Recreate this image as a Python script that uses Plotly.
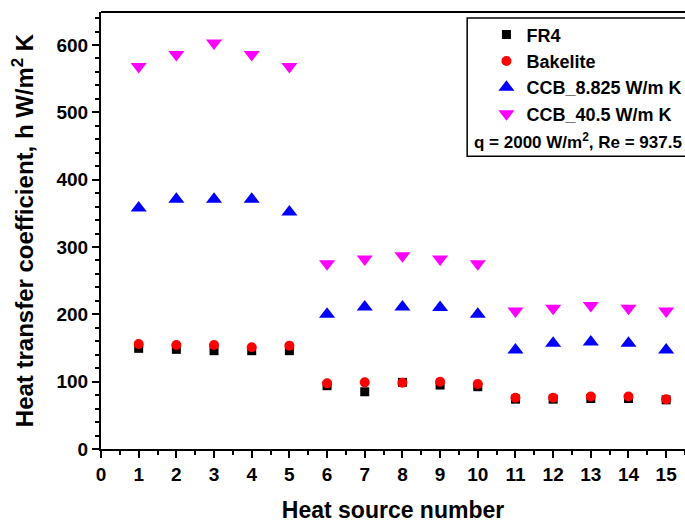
import plotly.graph_objects as go

heat_source = list(range(1, 16))
fr4 = [149.5, 148, 146, 146, 146, 94, 85, 99, 95, 92.5, 74, 74, 75, 75, 73]
bakelite = [156, 154.5, 154.5, 151, 153.5, 97.5, 99, 98.5, 100, 96.5, 76, 76, 78, 78, 74]
ccb_8825 = [358, 371, 371, 371, 352, 200, 211, 211, 210, 200, 147, 157, 159, 157, 147]
ccb_405 = [568, 586, 603, 586, 568, 275, 282, 287, 282, 275, 205, 209, 213, 209, 205]

FONT = "Liberation Sans, Arial, sans-serif"

fig = go.Figure()
series = [
    ("FR4", fr4, "square", "black", 9),
    ("Bakelite", bakelite, "circle", "red", 10),
    ("CCB_8.825 W/m K", ccb_8825, "triangle-up", "blue", 14),
    ("CCB_40.5 W/m K", ccb_405, "triangle-down", "magenta", 14),
]
for i, (name, vals, sym, col, sz) in enumerate(series):
    fig.add_trace(go.Scatter(
        x=heat_source, y=vals, mode="markers", name=name,
        legendgroup=f"g{i}",
        marker=dict(symbol=sym, color=col, size=sz, line=dict(width=0)),
    ))

axis_common = dict(
    showline=True, linecolor="black", linewidth=2, mirror=False,
    ticks="outside", ticklen=7, tickwidth=2, tickcolor="black",
    showgrid=False, zeroline=False, automargin=False,
    tickfont=dict(family=FONT, size=19, color="black", weight="bold"),
)

fig.update_xaxes(
    range=[0, 15.5], tickmode="linear", tick0=0, dtick=1,
    minor=dict(ticks="outside", ticklen=4, tickwidth=2, tickcolor="black", dtick=0.5, showgrid=False),
    title=dict(text="Heat source number", font=dict(family=FONT, size=23, color="black", weight="bold"), standoff=22),
    **axis_common,
)
fig.update_yaxes(
    range=[0, 649], tickmode="linear", tick0=0, dtick=100,
    minor=dict(ticks="outside", ticklen=4, tickwidth=2, tickcolor="black", dtick=20, showgrid=False),
    title=dict(text="Heat transfer coefficient, h W/m<sup>2</sup> K", font=dict(family=FONT, size=24, color="black", weight="bold"), standoff=16),
    **axis_common,
)

fig.add_shape(type="line", xref="paper", yref="paper", x0=0, x1=1, y0=1, y1=1,
              line=dict(color="black", width=2))
fig.add_shape(type="rect", xref="paper", yref="paper", x0=0.627, x1=1.05, y0=0.670, y1=0.986,
              line=dict(color="black", width=1.5))

fig.add_annotation(text="q = 2000 W/m<sup>2</sup>, Re = 937.5", xref="paper", yref="paper",
                   x=0.817, y=0.705, showarrow=False, xanchor="center", yanchor="middle",
                   font=dict(family=FONT, size=17, color="black", weight="bold"))

fig.update_layout(
    width=685, height=523,
    margin=dict(l=101, r=0, t=12, b=74, autoexpand=False),
    plot_bgcolor="white", paper_bgcolor="white",
    showlegend=True,
    legend=dict(x=0.66, y=0.99, xanchor="left", yanchor="top",
                bgcolor="rgba(0,0,0,0)", borderwidth=0,
                tracegroupgap=0,
                font=dict(family=FONT, size=18, color="black", weight="bold")),
)

fig.write_html("out.html")
